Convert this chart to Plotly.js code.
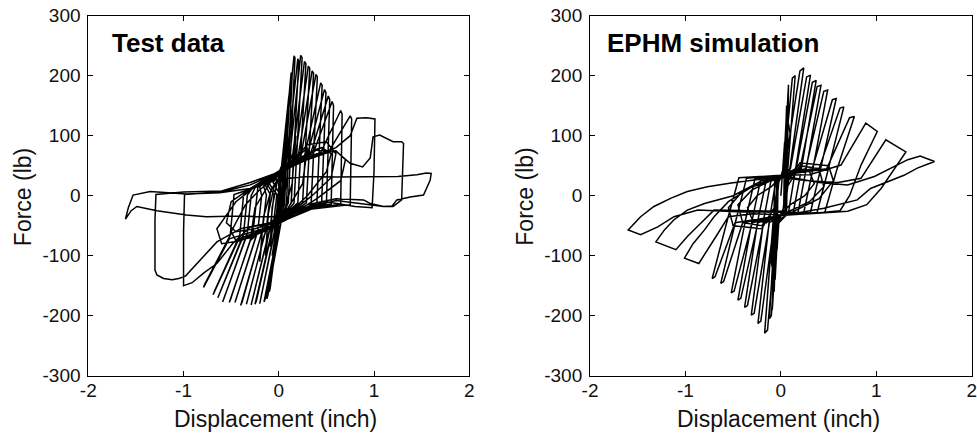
<!DOCTYPE html>
<html>
<head>
<meta charset="utf-8">
<script src="https://cdn.plot.ly/plotly-3.0.1.min.js"></script>
<style>
  html, body { margin: 0; padding: 0; background: #fff; }
  #chart { width: 977px; height: 438px; }
</style>
</head>
<body>
<div id="chart"></div>
<script>
// Measured force-displacement path of the wall specimen (inch, lb), one half-cycle per row
const testDisp = [
  0, 0.02, 0.05, 0.03, 0.0,
  -0.01, -0.05, -0.04, 0.0, 0.0,
  0.03, 0.07, 0.05, 0.0,
  -0.01, -0.07, -0.06, 0.0, 0.01,
  0.03, 0.09, 0.085, 0.04, 0.0,
  -0.01, -0.08, -0.07, 0.0, 0.01, 0.01,
  0.02, 0.06, 0.08, 0.06, 0.02, -0.04, -0.07, -0.09, -0.07, -0.02, 0.04,
  0.10, 0.12, 0.09, 0.03, -0.08, -0.12, -0.14, -0.11, -0.05, 0.05,
  0.15, 0.18, 0.14, 0.05, -0.12, -0.18, -0.20, -0.16, -0.08, 0.06,
  0.25, 0.35, 0.45, 0.55, 0.5, 0.3, 0.1, -0.1, -0.3, -0.45, -0.5, -0.35, -0.2, 0.0,
  0.2, 0.4, 0.6, 0.7, 0.65, 0.4, 0.1, -0.2, -0.4, -0.6, -0.65, -0.45, -0.25, 0.0,
  0.1, 0.3, 0.5, 0.6, 0.55, 0.35, 0.15, -0.05, -0.25, -0.45, -0.55, -0.5, -0.3, -0.1, 0.02,
  0.05, 0.2, 0.3, 0.25, 0.1, -0.05, -0.2, -0.3, -0.25, -0.1, 0.0,
  0.03, 0.105, 0.11, 0.06, 0.02, -0.02,
  0.0, -0.10, -0.09, 0.0, 0.02, 0.02,
  0.04, 0.13, 0.14, 0.08, 0.03, -0.02,
  0.01, -0.125, -0.115, 0.02, 0.05, 0.03,
  0.05, 0.16, 0.17, 0.10, 0.04, -0.02,
  -0.005, -0.155, -0.14, 0.0, 0.04, 0.0, 0.03,
  0.08, 0.20, 0.21, 0.13, 0.06, -0.02,
  -0.04, -0.20, -0.185, -0.03, 0.01, -0.06, 0.03,
  0.11, 0.23, 0.245, 0.16, 0.07, -0.02,
  -0.07, -0.25, -0.235, -0.06, -0.02, -0.10, 0.03,
  0.14, 0.27, 0.285, 0.20, 0.08, -0.02,
  -0.10, -0.29, -0.275, -0.09, -0.05, -0.12, 0.03,
  0.17, 0.31, 0.325, 0.25, 0.10, -0.02,
  -0.14, -0.34, -0.325, -0.13, -0.09, -0.14, 0.04,
  0.20, 0.35, 0.365, 0.29, 0.12, -0.02,
  -0.18, -0.40, -0.385, -0.17, -0.13, -0.16, 0.04,
  0.23, 0.39, 0.405, 0.34, 0.14, -0.02,
  -0.23, -0.46, -0.445, -0.22, -0.18, -0.20, 0.04,
  0.27, 0.44, 0.455, 0.40, 0.16, -0.02,
  -0.28, -0.52, -0.505, -0.27, -0.23, -0.22, 0.04,
  0.30, 0.48, 0.495, 0.45, 0.18, -0.02,
  -0.34, -0.59, -0.575, -0.33, -0.29, -0.25, 0.05,
  0.33, 0.52, 0.535, 0.50, 0.20, -0.02,
  -0.38, -0.64, -0.625, -0.37, -0.33, -0.28, 0.05,
  0.36, 0.56, 0.575, 0.55, 0.22, -0.02,
  -0.42, -0.69, -0.675, -0.41, -0.37, -0.30, 0.05,
  0.44, 0.65, 0.665, 0.65, 0.28, -0.02,
  -0.52, -0.79, -0.78, -0.51, -0.47, -0.32, 0.05,
  0.52, 0.75, 0.765, 0.75, 0.35, 0.0,
  -0.30, -0.48, -0.65, -0.79, -0.91, -1.0, -1.0, -0.99, -0.6, -0.3, 0.05,
  0.3, 0.6, 0.75, 0.82, 0.92, 1.01, 1.0, 0.98, 0.8, 0.5, 0.15, 0.0,
  -0.4, -0.65, -0.76, -0.86, -0.98, -1.05, -1.12, -1.21, -1.28, -1.3, -1.3, -1.29, -1.0, -0.6, -0.3, 0.05,
  0.2, 0.4, 0.61, 0.75, 0.88, 0.96, 0.99, 1.06, 1.13, 1.20, 1.29, 1.31, 1.29, 1.20, 1.10, 0.96, 0.6, 0.3, 0.1, -0.1,
  -0.4, -0.76, -0.97, -1.28, -1.49, -1.55, -1.61, -1.58, -1.53, -1.35, -0.97, -0.62, -0.3, 0.0, 0.3,
  0.6, 1.0, 1.25, 1.45, 1.55, 1.6, 1.59, 1.52, 1.38, 1.24, 1.19, 1.10, 0.96, 0.89, 0.6, 0.3
];
const testForce = [
  0, 20, 60, -10, -30,
  -25, -60, -55, 10, 30,
  45, 95, -12, -35,
  -40, -100, -95, -20, 33,
  50, 130, 125, -15, -36,
  -48, -130, -124, -40, 5, 35,
  30, 70, 90, 20, -20, -35, -60, -85, -20, 20, 45,
  80, 110, 30, -25, -45, -75, -100, -30, 15, 40,
  70, 100, 20, -30, -50, -80, -110, -35, 10, 45,
  60, 75, 80, 70, 40, 0, -30, -55, -70, -75, -60, -15, 10, 35,
  55, 70, 75, 60, 25, -5, -35, -60, -75, -80, -55, -10, 15, 38,
  50, 85, 90, 70, 30, 0, -25, -45, -55, -60, -45, -10, 12, 30, 40,
  45, 65, 80, 20, -20, -40, -60, -75, -20, 20, 38,
  50, 165, 160, -15, -30, -40,
  -52, -160, -154, -45, 5, 38,
  52, 205, 200, -15, -32, -40,
  -55, -172, -166, -48, 3, 40,
  55, 233, 230, -12, -32, -42,
  -55, -177, -171, -50, 3, 25, 40,
  55, 228, 224, -12, -30, -42,
  -55, -180, -174, -50, 3, 22, 42,
  58, 234, 230, -12, -30, -42,
  -57, -181, -175, -52, 2, 20, 42,
  60, 224, 220, -12, -30, -44,
  -58, -182, -176, -53, 2, 18, 44,
  62, 216, 212, -12, -30, -44,
  -60, -181, -175, -54, 2, 17, 44,
  62, 208, 204, -12, -30, -45,
  -62, -183, -177, -56, 1, 16, 45,
  65, 202, 198, -12, -28, -46,
  -64, -178, -172, -58, 0, 15, 46,
  66, 188, 184, -12, -28, -46,
  -66, -178, -172, -60, 0, 14, 46,
  68, 177, 172, -12, -28, -47,
  -68, -177, -171, -62, 0, 13, 46,
  68, 166, 160, -14, -26, -47,
  -70, -170, -164, -64, 1, 12, 46,
  70, 157, 150, -14, -25, -48,
  -72, -165, -159, -66, 1, 11, 46,
  72, 142, 136, -14, -24, -48,
  -72, -153, -148, -66, 2, 10, 46,
  72, 133, 128, -15, -22, -45,
  -52, -79, -113, -129, -145, -150, -60, 2, 6, 18, 42,
  60, 80, 100, 129, 130, 128, 40, -20, -18, -10, -35, -42,
  -55, -77, -96, -113, -134, -138, -140, -138, -132, -124, -40, 2, 6, 8, 22, 42,
  62, 76, 73, 54, 48, 63, 98, 101, 96, 90, 90, 87, -7, -18, -18, -15, -8, -20, -35, -35,
  -34, -35, -32, -25, -18, -25, -39, -20, 1, 7, 3, 5, 12, 28, 32,
  31, 31, 32, 35, 38, 37, 26, 1, -2, -7, -17, -18, -13, -7, -5, -15
];

// EPHM model response to the same displacement history (inch, lb)
const simDisp = [
  0, 0.02, 0.04, 0.03, 0.0,
  -0.02, -0.04, -0.03, 0.0,
  0.03, 0.06, 0.045, 0.0,
  -0.03, -0.06, -0.045, 0.0,
  0.035, 0.08, 0.06, 0.0,
  -0.035, -0.09, -0.065, 0.0,
  0.03, 0.05, 0.04, 0.15, 0.3, 0.35, 0.25, 0.1, 0.0, -0.04, -0.06, -0.05, -0.15, -0.3, -0.35, -0.25, -0.1, 0.0,
  0.04, 0.06, 0.05, 0.2, 0.4, 0.45, 0.3, 0.1, -0.05, -0.07, -0.06, -0.2, -0.4, -0.45, -0.3, -0.1, 0.0,
  0.02, 0.08, 0.1, 0.06, 0.2, 0.5, 0.55, 0.4, 0.15, -0.02, -0.08, -0.1, -0.07, -0.2, -0.5, -0.55, -0.4, -0.15, 0.0,
  0.03, 0.12, 0.15, 0.07, 0.02, 0.0,
  -0.03, -0.10, -0.12, -0.06, -0.02, 0.0,
  0.04, 0.20, 0.24, 0.09, 0.04, 0.0,
  -0.04, -0.14, -0.17, -0.08, -0.03, 0.0,
  0.10, 0.27, 0.31, 0.15, 0.08, 0.0,
  -0.07, -0.21, -0.24, -0.12, -0.05, 0.0,
  0.16, 0.33, 0.37, 0.21, 0.13, 0.0,
  -0.12, -0.28, -0.31, -0.18, -0.10, 0.0,
  0.20, 0.38, 0.42, 0.26, 0.18, 0.0,
  -0.18, -0.35, -0.38, -0.24, -0.15, 0.0,
  0.26, 0.45, 0.49, 0.33, 0.24, 0.0,
  -0.24, -0.42, -0.45, -0.30, -0.21, 0.0,
  0.33, 0.54, 0.58, 0.41, 0.31, 0.0,
  -0.30, -0.49, -0.52, -0.37, -0.27, 0.0,
  0.40, 0.62, 0.66, 0.49, 0.38, 0.0,
  -0.40, -0.60, -0.63, -0.47, -0.36, 0.0,
  0.48, 0.72, 0.77, 0.58, 0.46, 0.0,
  -0.48, -0.69, -0.72, -0.56, -0.44, 0.0,
  0.3, 0.63, 0.89, 1.01, 0.84, 0.72, 0.62, 0.3, 0.0,
  -0.3, -0.55, -0.66, -0.86, -1.01, -0.92, -0.8, -0.7, -0.55, -0.3, 0.0,
  0.3, 0.6, 0.84, 1.10, 1.31, 1.05, 0.9, 0.7, 0.3, 0.0,
  -0.4, -0.70, -0.84, -0.98, -1.10, -1.31, -1.22, -1.12, -0.98, -0.8, -0.5, -0.2, 0.05,
  0.4, 0.7, 0.98, 1.33, 1.46, 1.61, 1.43, 1.29, 1.12, 0.94, 0.8, 0.45, 0.2,
  -0.4, -0.87, -1.12, -1.29, -1.47, -1.6, -1.47, -1.33, -1.15, -0.98, -0.77, -0.52, -0.2, 0.05
];
const simForce = [
  0, 40, 90, -20, -30,
  -40, -90, 20, 30,
  50, 140, -25, -32,
  -50, -140, 22, 32,
  50, 185, -28, -33,
  -55, -190, 25, 33,
  40, 110, 20, 45, 40, 20, 0, -15, -30, -40, -120, -30, -45, -40, -20, 0, 15, 32,
  50, 150, 10, 50, 45, 15, -10, -25, -50, -160, -20, -50, -45, -15, 10, 25, 33,
  40, 120, 100, 20, 55, 50, 25, -5, -25, -40, -130, -110, -20, -55, -50, -20, 8, 25, 33,
  45, 196, 200, 40, -28, -33,
  -45, -200, -205, -40, 26, 33,
  45, 208, 213, 40, -28, -33,
  -45, -224, -229, -40, 26, 33,
  45, 198, 201, 40, -28, -33,
  -45, -209, -213, -40, 27, 33,
  45, 189, 192, 40, -28, -33,
  -45, -196, -199, -40, 28, 34,
  45, 182, 184, 40, -28, -33,
  -45, -183, -186, -40, 28, 34,
  45, 174, 176, 40, -28, -33,
  -45, -171, -174, -40, 28, 34,
  45, 160, 162, 40, -28, -33,
  -45, -159, -162, -40, 29, 34,
  45, 146, 148, 40, -28, -33,
  -45, -143, -146, -40, 29, 34,
  45, 130, 132, 40, -28, -33,
  -45, -135, -138, -40, 30, 34,
  35, 51, 121, 107, 51, 0, -25, -30, -32,
  -30, -35, -63, -113, -104, -80, -57, -35, -10, 15, 30,
  25, 22, 29, 93, 73, 12, -15, -26, -30, -26,
  -25, -24, -46, -68, -90, -77, -57, -40, -24, -13, 0, 25, 32,
  22, 18, 32, 60, 66, 57, 46, 34, 23, 12, -7, -21, -28,
  -27, -24, -35, -52, -65, -57, -35, -18, -4, 7, 15, 21, 28, 32
];

const panelTitles = ['Test data', 'EPHM simulation'];
const xTicks = [-2, -1, 0, 1, 2];
const xTickText = ['-2', '-1', '0', '1', '2'];
const yTicks = [-300, -200, -100, 0, 100, 200, 300];
const yTickText = ['-300', '-200', '-100', '0', '100', '200', '300'];
const xLabel = 'Displacement (inch)';
const yLabel = 'Force (lb)';

const FONT = 'Liberation Sans, Arial, Helvetica, sans-serif';

function curve(x, y, xa, ya) {
  return {
    type: 'scatter', mode: 'lines', x: x, y: y, xaxis: xa, yaxis: ya,
    line: { color: '#000', width: 1.5 }, hoverinfo: 'skip', showlegend: false
  };
}

const common = {
  ticks: 'inside', ticklen: 5, tickwidth: 1, tickcolor: '#000',
  showline: true, linecolor: '#000', linewidth: 1, mirror: 'ticks',
  showgrid: false, zeroline: false, automargin: false,
  ticklabeloverflow: 'allow',
  tickfont: { family: FONT, size: 19, color: '#111' }
};

function xAxis(domain, anchor) {
  return Object.assign({}, common, {
    domain: domain, anchor: anchor, range: [-2, 2],
    tickvals: xTicks, ticktext: xTickText, ticklabelstandoff: -3
  });
}
function yAxis(anchor) {
  return Object.assign({}, common, {
    domain: [0.1422, 0.9642], anchor: anchor, range: [-300, 300],
    tickvals: yTicks, ticktext: yTickText, ticklabelstandoff: 3
  });
}

const data = [
  curve(testDisp, testForce, 'x', 'y'),
  curve(simDisp, simForce, 'x2', 'y2')
];

function label(text, x, y, opts) {
  return Object.assign({
    text: text, x: x, y: y, xref: 'paper', yref: 'paper', showarrow: false,
    font: { family: FONT, size: 23, color: '#111' }
  }, opts || {});
}

const layout = {
  width: 977, height: 438,
  margin: { l: 0, r: 0, t: 0, b: 0 },
  paper_bgcolor: '#fff', plot_bgcolor: '#fff',
  xaxis: xAxis([0.0904, 0.4803], 'y'),
  yaxis: yAxis('x'),
  xaxis2: xAxis([0.6039, 0.9946], 'y2'),
  yaxis2: yAxis('x2'),
  annotations: [
    label(panelTitles[0], 0.1126, 0.902, { xanchor: 'left', yanchor: 'middle',
      font: { family: FONT, size: 26, color: '#000', weight: 'bold' } }),
    label(panelTitles[1], 0.6193, 0.902, { xanchor: 'left', yanchor: 'middle',
      font: { family: FONT, size: 26, color: '#000', weight: 'bold' } }),
    label(xLabel, 0.2819, 0.044, { xanchor: 'center', yanchor: 'middle' }),
    label(xLabel, 0.7966, 0.044, { xanchor: 'center', yanchor: 'middle' }),
    label(yLabel, 0.023, 0.551, { xanchor: 'center', yanchor: 'middle', textangle: -90 }),
    label(yLabel, 0.5374, 0.551, { xanchor: 'center', yanchor: 'middle', textangle: -90 })
  ]
};

Plotly.newPlot('chart', data, layout, { staticPlot: true, displayModeBar: false });
</script>
</body>
</html>
